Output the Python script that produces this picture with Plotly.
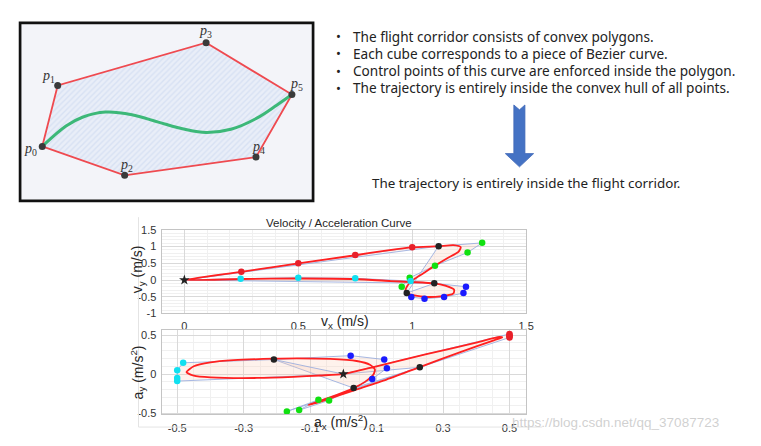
import plotly.graph_objects as go

W, H = 761, 446


def px(x):
    return x / W


def py(y):
    return 1 - y / H


# ---------------- Top-left diagram (values read in picture pixels) ----------------
poly_names = ["0", "1", "3", "5", "4", "2"]
poly_x = [42.7, 58.3, 208.3, 295.0, 258.7, 126.0]
poly_y = [144.3, 81.7, 37.7, 91.0, 155.3, 174.0]
poly_label_x = [31.0, 49.0, 208.0, 300.0, 261.0, 128.0]
poly_label_y = [147.0, 72.0, 26.0, 81.0, 145.0, 164.0]
diag_curve_x = [42.7, 66.7, 83.3, 106.7, 133.3, 160.0, 186.7, 208.3, 233.3, 260.0, 280.0, 295.0]
diag_curve_y = [144.3, 123.3, 114.3, 109.0, 111.7, 119.3, 126.7, 130.0, 126.7, 115.0, 101.7, 91.0]

bullets = [
    "The flight corridor consists of convex polygons.",
    "Each cube corresponds to a piece of Bezier curve.",
    "Control points of this curve are enforced inside the polygon.",
    "The trajectory is entirely inside the convex hull of all points.",
]
conclusion = "The trajectory is entirely inside the flight corridor."

# ---------------- Velocity plot ----------------
vel_start = (0.0, 0.0)
vel_red_x = [0.25, 0.5, 0.75, 1.0]
vel_red_y = [0.25, 0.5, 0.75, 0.98]
vel_green_x = [1.307, 1.243, 1.10, 0.989, 0.954]
vel_green_y = [1.11, 0.82, 0.43, 0.066, -0.2]
vel_blue_x = [0.996, 1.054, 1.14, 1.225, 1.236]
vel_blue_y = [-0.51, -0.56, -0.51, -0.39, -0.2]
vel_cyan_x = [0.993, 0.75, 0.5, 0.247]
vel_cyan_y = [-0.03, 0.05, 0.07, 0.04]
vel_black_x = [1.116, 0.976, 1.097]
vel_black_y = [1.01, -0.39, -0.1]
vel_curve_x = [0, 0.25, 0.5, 0.75, 0.9, 1.0, 1.116, 1.181, 1.213, 1.203, 1.152, 1.10, 1.051,
               1.007, 0.979, 0.971, 0.986, 1.051, 1.123, 1.181, 1.184, 1.145, 1.097, 0.993,
               0.906, 0.75, 0.5, 0.25, 0]
vel_curve_y = [0, 0.245, 0.495, 0.74, 0.895, 0.975, 1.01, 1.04, 0.98, 0.84, 0.645, 0.43, 0.21,
               0.02, -0.17, -0.32, -0.42, -0.5, -0.49, -0.40, -0.29, -0.17, -0.1, -0.06,
               -0.03, 0.03, 0.045, 0.03, 0]

# ---------------- Acceleration plot ----------------
acc_start = (0.0, 0.0)
acc_red_x = [0.5, 0.5, 0.5, 0.5]
acc_red_y = [0.515, 0.5, 0.485, 0.47]
acc_green_x = [-0.17, -0.075, -0.133, -0.043]
acc_green_y = [-0.48, -0.33, -0.463, -0.338]
acc_blue_x = [0.087, 0.131, 0.123, 0.022]
acc_blue_y = [-0.063, 0.075, 0.187, 0.237]
acc_cyan_x = [-0.482, -0.5, -0.5, -0.5]
acc_cyan_y = [0.145, 0.05, -0.05, -0.09]
acc_black_x = [0.23, 0.031, -0.209]
acc_black_y = [0.087, -0.18, 0.187]
acc_curve_x = [0, 0.1, 0.25, 0.4, 0.47, 0.478, 0.455, 0.35, 0.23, 0.13, 0.03, -0.05, -0.105,
               -0.098, -0.04, 0.031, 0.065, 0.09, 0.095, 0.08, 0.04, -0.04, -0.14, -0.209,
               -0.33, -0.4, -0.45, -0.472, -0.45, -0.4, -0.26, -0.15, -0.07, 0]
acc_curve_y = [0, 0.1, 0.255, 0.405, 0.478, 0.47, 0.437, 0.28, 0.09, -0.07, -0.212, -0.327,
               -0.398, -0.385, -0.3, -0.18, -0.1, -0.01, 0.06, 0.12, 0.168, 0.195, 0.203,
               0.198, 0.178, 0.15, 0.1, 0.025, -0.02, -0.042, -0.05, -0.036, -0.018, 0]

RED = "#ff2020"
HULL_LINE = "rgba(150,172,222,0.85)"
HULL_FILL = "rgba(250,205,180,0.25)"
COLORS = {"red": "#e8202a", "green": "#10e010", "blue": "#1a1aff", "cyan": "#10e0f0", "black": "#222222"}

fig = go.Figure()


def pieces(start, red, green, blue, cyan, black):
    sx, sy = start
    (rx, ry), (gx, gy), (bx, by), (cx, cy) = red, green, blue, cyan
    kx, ky = black
    return [
        ([sx] + rx + [kx[0]], [sy] + ry + [ky[0]]),
        ([kx[0]] + gx + [kx[1]], [ky[0]] + gy + [ky[1]]),
        ([kx[1]] + bx + [kx[2]], [ky[1]] + by + [ky[2]]),
        ([kx[2]] + cx + [sx], [ky[2]] + cy + [sy]),
    ]


def add_panel(xa, ya, start, red, green, blue, cyan, black, cx, cy):
    for hx, hy in pieces(start, red, green, blue, cyan, black):
        fig.add_trace(go.Scatter(x=hx + [hx[0]], y=hy + [hy[0]], mode="lines", fill="toself",
                                 fillcolor=HULL_FILL, line=dict(color=HULL_LINE, width=1),
                                 xaxis=xa, yaxis=ya, hoverinfo="skip", showlegend=False))
    fig.add_trace(go.Scatter(x=cx, y=cy, mode="lines", line=dict(color=RED, width=1.8, shape="spline", smoothing=0.6),
                             xaxis=xa, yaxis=ya, showlegend=False))
    for (xs, ys), col in zip([red, green, blue, cyan, black], ["red", "green", "blue", "cyan", "black"]):
        fig.add_trace(go.Scatter(x=xs, y=ys, mode="markers", marker=dict(color=COLORS[col], size=6.5),
                                 xaxis=xa, yaxis=ya, showlegend=False))
    fig.add_trace(go.Scatter(x=[start[0]], y=[start[1]], mode="markers",
                             marker=dict(symbol="star", color="#222222", size=8),
                             xaxis=xa, yaxis=ya, showlegend=False))


add_panel("x", "y", vel_start, (vel_red_x, vel_red_y), (vel_green_x, vel_green_y),
          (vel_blue_x, vel_blue_y), (vel_cyan_x, vel_cyan_y), (vel_black_x, vel_black_y),
          vel_curve_x, vel_curve_y)
add_panel("x2", "y2", acc_start, (acc_red_x, acc_red_y), (acc_green_x, acc_green_y),
          (acc_blue_x, acc_blue_y), (acc_cyan_x, acc_cyan_y), (acc_black_x, acc_black_y),
          acc_curve_x, acc_curve_y)

# diagram traces
fig.add_trace(go.Scatter(x=poly_x + [poly_x[0]], y=poly_y + [poly_y[0]], mode="lines", fill="toself",
                         fillcolor="rgba(0,0,0,0)",
                         fillpattern=dict(shape="/", fgcolor="#c6d3ee", bgcolor="#e9eef8", size=4, solidity=0.35),
                         line=dict(color="#ef4a50", width=1.8), xaxis="x3", yaxis="y3", showlegend=False))
fig.add_trace(go.Scatter(x=diag_curve_x, y=diag_curve_y, mode="lines",
                         line=dict(color="#3cb878", width=3, shape="spline"),
                         xaxis="x3", yaxis="y3", showlegend=False))
fig.add_trace(go.Scatter(x=poly_x, y=poly_y, mode="markers", marker=dict(color="#3a3a3a", size=7),
                         xaxis="x3", yaxis="y3", showlegend=False))

annotations = []
for n, lx, ly in zip(poly_names, poly_label_x, poly_label_y):
    annotations.append(dict(x=lx, y=ly, xref="x3", yref="y3", showarrow=False,
                            xanchor="center", yanchor="middle",
                            text=f"<i>p</i><sub>{n}</sub>",
                            font=dict(family="Liberation Serif", size=14, color="#333333")))

TXT = dict(family="Noto Sans", size=13.6, color="#222222")
bullet_y = [31.0, 48.7, 66.5, 84.2]
for t, by_ in zip(bullets, bullet_y):
    annotations.append(dict(x=px(342), y=py(by_), xref="paper", yref="paper", showarrow=False,
                            text="•", xanchor="center", yanchor="middle",
                            font=dict(family="Noto Sans", size=13, color="#222222")))
    annotations.append(dict(x=px(355), y=py(by_), xref="paper", yref="paper", showarrow=False,
                            text=t, xanchor="left", yanchor="middle", font=TXT))
annotations.append(dict(x=px(531.7), y=py(181.7), xref="paper", yref="paper", showarrow=False,
                        text=conclusion, xanchor="center", yanchor="middle",
                        font=dict(TXT, size=13.4)))

LAB = dict(family="Liberation Sans", color="#262626")
annotations += [
    dict(x=px(342.5), y=py(223.3), xref="paper", yref="paper", showarrow=False,
         xanchor="center", yanchor="middle",
         text="Velocity / Acceleration Curve", font=dict(LAB, size=11.5)),
    dict(x=px(139), y=py(271), xref="paper", yref="paper", showarrow=False, textangle=-90,
         xanchor="center", yanchor="middle",
         text="v<sub>y</sub> (m/s)", font=dict(LAB, size=14)),
    dict(x=px(349), y=py(325), xref="paper", yref="paper", showarrow=False,
         xanchor="center", yanchor="middle",
         text="v<sub>x</sub> (m/s)", font=dict(LAB, size=14)),
    dict(x=px(139), y=py(377), xref="paper", yref="paper", showarrow=False, textangle=-90,
         xanchor="center", yanchor="middle",
         text="a<sub>y</sub> (m/s<sup>2</sup>)", font=dict(LAB, size=14)),
    dict(x=px(345), y=py(428), xref="paper", yref="paper", showarrow=False,
         xanchor="center", yanchor="middle",
         text="a<sub>x</sub> (m/s<sup>2</sup>)", font=dict(LAB, size=14)),
    dict(x=px(515), y=py(428), xref="paper", yref="paper", showarrow=False, xanchor="left",
         yanchor="middle", text="https://blog.csdn.net/qq_37087723",
         font=dict(family="Liberation Sans", size=13.5, color="rgba(200,200,200,0.85)")),
]

# arrow (picture pixels -> paper)
arrow_pts = [(519.3, 101.7), (525.0, 106.7), (530.5, 101.7), (530.5, 151.7), (539.3, 151.7),
             (525.0, 165.3), (510.7, 151.7), (519.3, 151.7)]
path = "M " + " L ".join(f"{px(a):.5f},{py(b):.5f}" for a, b in arrow_pts) + " Z"

shapes = [
    dict(type="rect", xref="paper", yref="paper", x0=px(20.3), x1=px(316.4), y0=py(200.3), y1=py(17.3),
         fillcolor="#f3f4f9", line=dict(color="#111111", width=2.7), layer="below"),
    dict(type="path", xref="paper", yref="paper", path=path, fillcolor="#4472c4",
         line=dict(color="#4068b8", width=0.8)),
    dict(type="line", xref="paper", yref="paper", x0=px(140), x1=px(140), y0=py(217), y1=py(432.7),
         line=dict(color="#e4e4e4", width=1)),
    dict(type="line", xref="paper", yref="paper", x0=px(140), x1=px(548), y0=py(432.7), y1=py(432.7),
         line=dict(color="#e4e4e4", width=1)),
]

TICKF = dict(family="Liberation Sans", size=11, color="#333333")
common = dict(showline=True, mirror=True, linecolor="#c4c4c4", linewidth=1, zeroline=False,
              gridcolor="#d9d9d9", gridwidth=1, ticks="", tickfont=TICKF, showgrid=True)

fig.update_layout(
    width=W, height=H, margin=dict(l=0, r=0, t=0, b=0, pad=0),
    paper_bgcolor="white", plot_bgcolor="white", showlegend=False,
    xaxis=dict(common, domain=[px(163.3), px(531.7)], range=[-0.1, 1.5],
               tickvals=[0, 0.5, 1, 1.5], ticktext=["0", "0.5", "1", "1.5"], ticklabelstandoff=2,
               minor=dict(dtick=0.1, tick0=0, showgrid=True, gridcolor="#f0f0f0")),
    yaxis=dict(common, domain=[py(316), py(230)], range=[-1, 1.5], ticklabelstandoff=2,
               tickvals=[-1, -0.5, 0, 0.5, 1, 1.5], ticktext=["-1", "-0.5", "0", "0.5", "1", "1.5"],
               minor=dict(dtick=0.1, tick0=0, showgrid=True, gridcolor="#f0f0f0")),
    xaxis2=dict(common, domain=[px(163.3), px(531.7)], range=[-0.547, 0.55], anchor="y2",
                tickvals=[-0.5, -0.3, -0.1, 0.1, 0.3, 0.5], ticklabelstandoff=4,
                ticktext=["-0.5", "-0.3", "-0.1", "0.1", "0.3", "0.5"],
                minor=dict(dtick=0.05, tick0=0, showgrid=True, gridcolor="#f0f0f0")),
    yaxis2=dict(common, domain=[py(419.3), py(333.3)], range=[-0.513, 0.562], anchor="x2",
                tickvals=[-0.5, 0, 0.5], ticktext=["-0.5", "0", "0.5"], ticklabelstandoff=2,
                minor=dict(dtick=0.1, tick0=0, showgrid=True, gridcolor="#f0f0f0")),
    xaxis3=dict(domain=[px(19), px(317.7)], range=[19, 317.7], anchor="y3", visible=False),
    yaxis3=dict(domain=[py(201.7), py(16)], range=[201.7, 16], anchor="x3", visible=False),
    annotations=annotations, shapes=shapes,
)

fig.write_html("out.html")
